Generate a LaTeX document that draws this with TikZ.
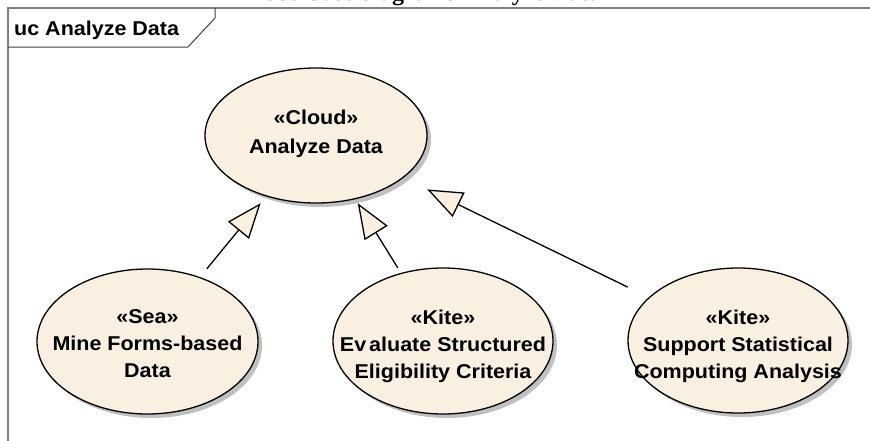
\documentclass[tikz,border=0pt]{standalone}
\usepackage{fontspec}
\setmainfont[FakeStretch=1.075]{Liberation Sans}
\newfontfamily\captionfont{Liberation Serif}
\usetikzlibrary{arrows.meta}
\definecolor{ucfill}{RGB}{250,240,226}
\definecolor{ucshadow}{RGB}{192,192,192}
\definecolor{framegray}{RGB}{128,128,128}
\begin{document}
\begin{tikzpicture}[x=1pt,y=-1pt,
  ucbox/.style={rectangle, inner sep=0pt},
  ucshape/.style={draw=black, line width=1.3pt, fill=ucfill},
  ucshade/.style={fill=ucshadow},
  uctext/.style={font=\bfseries\fontsize{20}{27}\selectfont, align=center, inner sep=0pt},
  gen/.style={draw=black, line width=1.3pt, -{Triangle[length=35pt,width=27pt,fill=ucfill]}},
  frameline/.style={draw=framegray, line width=1.5pt},
  tabline/.style={draw=black!75, line width=1pt}]
\useasboundingbox (0,0) rectangle (870,440);

% caption (mostly cut off at the top)
\node[anchor=base, font=\captionfont\bfseries\fontsize{24}{24}\selectfont, inner sep=0pt] (caption) at (431,0.5) {Use Case diagram: Analyze Data};

% frame
\draw[frameline] (8,445) -- (8,8) -- (875,8);
\draw[tabline] (8,47) -- (188,47) -- (215,18) -- (215,8);
\node[anchor=west, font=\bfseries\fontsize{20}{24}\selectfont, inner sep=0pt] (tabtitle) at (14,30) {uc Analyze Data};

% use case bounds
\node[ucbox, minimum width=222pt, minimum height=135pt] (cloud) at (316,135.5) {};
\node[ucbox, minimum width=221pt, minimum height=145pt] (sea) at (147.5,341.5) {};
\node[ucbox, minimum width=220pt, minimum height=146pt] (evaluate) at (443,341) {};
\node[ucbox, minimum width=220pt, minimum height=145pt] (support) at (738,340.5) {};

% ellipses with shadows
\foreach \n/\rx/\ry in {cloud/111/67.5, sea/110.5/72.5, evaluate/110/73, support/110/72.5} {
  \fill[ucshade] ([shift={(4,4)}]\n.center) ellipse [x radius=\rx pt, y radius=\ry pt];
  \draw[ucshape] (\n.center) ellipse [x radius=\rx pt, y radius=\ry pt];
}

% texts
\node[uctext, font=\bfseries\fontsize{20}{29}\selectfont] (cloudtext) at (316,134) {«Cloud»\\Analyze Data};
\node[uctext] (seatext) at (147.5,344) {«Sea»\\Mine Forms-based\\Data};
\node[uctext] (evaluatetext) at (443,346) {«Kite»\\Ev\kern3pt aluate Structured\\Eligibility Criteria};
\node[uctext] (supporttext) at (738,346) {«Kite»\\Support Statistical\\Computing Analysis};

% generalizations
\draw[gen] (sea) -- (cloud);
\draw[gen] (evaluate) -- (cloud);
\draw[gen] (support) -- (cloud);
\end{tikzpicture}
\end{document}
